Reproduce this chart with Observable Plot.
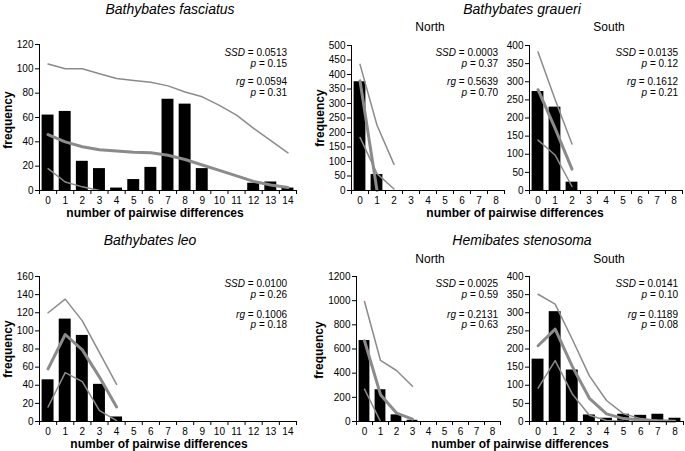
<!DOCTYPE html>
<html><head><meta charset="utf-8">
<script src="https://cdn.jsdelivr.net/npm/d3@7"></script>
<script src="https://cdn.jsdelivr.net/npm/@observablehq/plot@0.6"></script>
<style>
body{margin:0;background:#fff;}
#chart{position:relative;width:685px;height:451px;font-family:"Liberation Sans",Arial,sans-serif;color:#000;overflow:hidden;background:#fff}
.t{position:absolute;white-space:nowrap;line-height:1}
.pl{position:absolute}
</style></head><body><div id="chart"></div>
<script>
// ---------- data ----------
const diffs15 = [0,1,2,3,4,5,6,7,8,9,10,11,12,13,14];
const diffs9 = [0,1,2,3,4,5,6,7,8];

// Bathybates fasciatus
const fasObs   = [62,65,24,18,2,9,19,75,71,18,0,0,6,7,2];
const fasUpper = [104,100,100,96,92,90.5,89,86,81,77,70,62,51,41,31];
const fasMean  = [46,40,36,33.5,32.5,31.5,31,29,25.5,21,16.5,12,7.5,4.5,2.5];
const fasLower = [18,7,3,0];

// Bathybates graueri North
const grNObs   = [375,55,0,0,0,0,0,0,0];
const grNUpper = [435,225,90];
const grNMean  = [378,0];
const grNLower = [183,58,5];

// Bathybates graueri South
const grSObs   = [273,230,23,0,0,0,0,0,0];
const grSUpper = [382,252,128];
const grSMean  = [278,172,59];
const grSLower = [139,98,11];

// Bathybates leo
const leoObs   = [46,113,95,41,5,0,0,0,0,0,0,0,0,0,0];
const leoUpper = [120,135,111,76,41];
const leoMean  = [58,96,79,49,16];
const leoLower = [16,54,44,12,1];

// Hemibates stenosoma North
const heNObs   = [670,263,55,10,0,0,0,0,0];
const heNUpper = [993,505,422,292];
const heNMean  = [668,222,70,20];
const heNLower = [268,0];

// Hemibates stenosoma South
const heSObs   = [172,303,142,18,9,20,17,20,9];
const heSUpper = [351,324,227,126,58,21,8,3,2];
const heSMean  = [209,255,152,64,21,8,4,2,1];
const heSLower = [92,168,76,17,3,0];

// statistics text
const ssdVals = ["0.0513","0.0003","0.0135","0.0100","0.0025","0.0141"];
const ssdP    = ["0.15","0.37","0.12","0.26","0.59","0.10"];
const rgVals  = ["0.0594","0.5639","0.1612","0.1006","0.2131","0.1189"];
const rgP     = ["0.31","0.70","0.21","0.18","0.63","0.08"];

const species = ["Bathybates fasciatus","Bathybates graueri","Bathybates leo","Hemibates stenosoma"];
const regions = ["North","South"];
const xLabel = "number of pairwise differences";
const yLabel = "frequency";

// ---------- drawing ----------
const chart = document.getElementById("chart");
const FONT = "Liberation Sans, Arial, sans-serif";
const GRAY = "#8b8b8b";

function panel(cfg) {
  const {left, top, width, height, mt, mb, ml, mr, yMax, yStep, cats, obs, upper, mean, lower} = cfg;
  const bars = cats.map((k, i) => ({k, v: obs[i]}));
  const ser = arr => arr.map((v, i) => ({k: cats[i], v}));
  const x0 = cats[0] - 0.5, x1 = cats[cats.length - 1] + 0.5;
  const bounds = [x0, ...cats.map(k => k + 0.5)];
  const svg = Plot.plot({
    width, height, marginTop: mt, marginBottom: mb, marginLeft: ml, marginRight: mr,
    x: {domain: [x0, x1], label: null},
    y: {domain: [0, yMax], label: null},
    style: {fontFamily: FONT, fontSize: "10px", color: "#000", background: "transparent", overflow: "visible"},
    marks: [
      Plot.rect(bars, {x1: d => d.k - 0.5, x2: d => d.k + 0.5, y1: 0, y2: "v", fill: "#000", insetLeft: 2.6, insetRight: 2.6}),
      Plot.line(ser(upper), {x: "k", y: "v", stroke: GRAY, strokeWidth: 1.5}),
      Plot.line(ser(lower), {x: "k", y: "v", stroke: GRAY, strokeWidth: 1.5}),
      Plot.line(ser(mean), {x: "k", y: "v", stroke: GRAY, strokeWidth: 3}),
      Plot.ruleY([0], {stroke: "#000"}),
      Plot.ruleX([x0], {stroke: "#000"}),
      Plot.axisY({ticks: d3.range(0, yMax + 1, yStep), tickSize: 4, tickPadding: 2, tickFormat: d => String(d), label: null}),
      Plot.axisX({ticks: bounds, tickSize: 4, tickFormat: () => "", label: null}),
      Plot.axisX({ticks: cats, tickSize: 0, tickPadding: 6, tickFormat: d => String(d), label: null})
    ]
  });
  svg.classList.add("pl");
  svg.style.left = left + "px";
  svg.style.top = top + "px";
  chart.appendChild(svg);
}

function text(html, x, y, opts = {}) {
  const d = document.createElement("div");
  d.className = "t";
  d.innerHTML = html;
  d.style.fontSize = (opts.size || 10) + "px";
  if (opts.italic) d.style.fontStyle = "italic";
  if (opts.bold) d.style.fontWeight = "bold";
  if (opts.align === "right") {
    d.style.right = (685 - x) + "px";
    d.style.top = y + "px";
    d.style.transform = "translateY(-50%)";
  } else {
    d.style.left = x + "px";
    d.style.top = y + "px";
    d.style.transform = "translate(-50%,-50%)" + (opts.rotate ? " rotate(-90deg)" : "");
  }
  chart.appendChild(d);
}

// top row
panel({left: 0, top: 30, width: 300, height: 190, mt: 14, mb: 30, ml: 39, mr: 4, yMax: 120, yStep: 20,
  cats: diffs15, obs: fasObs, upper: fasUpper, mean: fasMean, lower: fasLower});
panel({left: 310, top: 30, width: 200, height: 190, mt: 15, mb: 30, ml: 41, mr: 6, yMax: 500, yStep: 50,
  cats: diffs9, obs: grNObs, upper: grNUpper, mean: grNMean, lower: grNLower});
panel({left: 505, top: 30, width: 180, height: 190, mt: 15, mb: 30, ml: 24, mr: 3, yMax: 400, yStep: 50,
  cats: diffs9, obs: grSObs, upper: grSUpper, mean: grSMean, lower: grSLower});
// bottom row
panel({left: 0, top: 255, width: 300, height: 196, mt: 21, mb: 30, ml: 39, mr: 4, yMax: 160, yStep: 20,
  cats: diffs15, obs: leoObs, upper: leoUpper, mean: leoMean, lower: leoLower});
panel({left: 310, top: 255, width: 200, height: 196, mt: 21, mb: 30, ml: 46, mr: 10, yMax: 1200, yStep: 200,
  cats: diffs9, obs: heNObs, upper: heNUpper, mean: heNMean, lower: heNLower});
panel({left: 505, top: 255, width: 180, height: 196, mt: 21, mb: 30, ml: 24, mr: 2, yMax: 400, yStep: 50,
  cats: diffs9, obs: heSObs, upper: heSUpper, mean: heSMean, lower: heSLower});

// titles
text(species[0], 170, 9, {size: 14, italic: true});
text(species[1], 522, 9, {size: 14, italic: true});
text(species[2], 150, 239.5, {size: 14, italic: true});
text(species[3], 522, 239.5, {size: 14, italic: true});
text(regions[0], 430, 27, {size: 12});
text(regions[1], 609, 27, {size: 12});
text(regions[0], 430, 258.5, {size: 12});
text(regions[1], 609, 258.5, {size: 12});

// axis labels
text(xLabel, 155, 212.5, {size: 12, bold: true});
text(xLabel, 515, 212.5, {size: 12, bold: true});
text(xLabel, 159, 443.5, {size: 12, bold: true});
text(xLabel, 520, 443.5, {size: 12, bold: true});
text(yLabel, 7.5, 120, {size: 12, bold: true, rotate: true});
text(yLabel, 320, 118, {size: 12, bold: true, rotate: true});
text(yLabel, 7.5, 349, {size: 12, bold: true, rotate: true});
text(yLabel, 319, 350, {size: 12, bold: true, rotate: true});

// statistics
const statPos = [
  [287, 53], [498, 53], [678, 53],
  [287, 284], [498, 284], [678, 284]
];
statPos.forEach(([x, y], i) => {
  const dy = i < 3 ? [0, 10.5, 29, 39.5] : [0, 10.5, 30.5, 41];
  text("<i>SSD</i> = " + ssdVals[i], x, y + dy[0], {align: "right"});
  text("<i>p</i> = " + ssdP[i], x, y + dy[1], {align: "right"});
  text("<i>rg</i> = " + rgVals[i], x, y + dy[2], {align: "right"});
  text("<i>p</i> = " + rgP[i], x, y + dy[3], {align: "right"});
});
</script>
</body></html>
